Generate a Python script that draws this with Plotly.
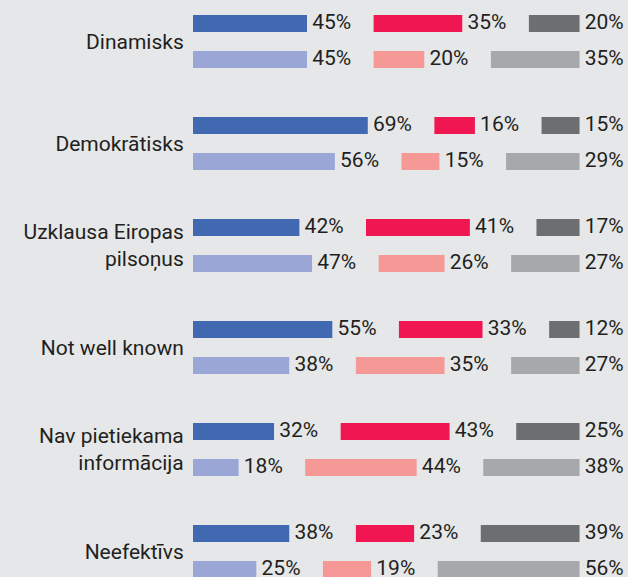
import plotly.graph_objects as go

categories = ["Dinamisks", "Demokrātisks", "Uzklausa Eiropas<br>pilsoņus",
              "Not well known", "Nav pietiekama<br>informācija", "Neefektīvs"]

# row 1 (dark colours) and row 2 (light colours) per category, in %
row1_blue = [45, 69, 42, 55, 32, 38]
row1_red = [35, 16, 41, 33, 43, 23]
row1_grey = [20, 15, 17, 12, 25, 39]
row2_blue = [45, 56, 47, 38, 18, 25]
row2_red = [20, 15, 26, 35, 44, 19]
row2_grey = [35, 29, 27, 27, 38, 56]

GAP = 26.3          # empty space (in % units) left for each label
ROW_OFF = 0.1765    # vertical offset of the two rows from the category centre
BAR_W = 0.167

FONT = "Roboto, Liberation Sans, Arial, sans-serif"
TXT = "#231f20"

rows = [
    (row1_blue, row1_red, row1_grey, ["#4169b2", "#f01652", "#6d6e70"], -ROW_OFF),
    (row2_blue, row2_red, row2_grey, ["#99a6d6", "#f69896", "#a7a8ab"], ROW_OFF),
]

fig = go.Figure()
n = len(categories)
for blue, red, grey, colors, off in rows:
    segs = [blue, red, grey]
    ypos = [i + off for i in range(n)]
    for j, vals in enumerate(segs):
        bases = []
        for i in range(n):
            bases.append(sum(segs[k][i] for k in range(j)) + j * GAP)
        fig.add_trace(go.Bar(
            orientation="h", x=vals, y=ypos, base=bases, width=BAR_W,
            marker=dict(color=colors[j], line=dict(width=0)),
            hoverinfo="skip", showlegend=False))
        fig.add_trace(go.Scatter(
            x=[b + v for b, v in zip(bases, vals)], y=ypos, mode="text",
            text=[f" {v}%" for v in vals], textposition="middle right",
            textfont=dict(family=FONT, size=21, color=TXT),
            cliponaxis=False, hoverinfo="skip", showlegend=False))

W, H = 628, 577
ML = 193
px_per_unit = 2.533
px_per_cat = 102
y_top = -41.5 / px_per_cat
y_bot = y_top + H / px_per_cat

fig.update_layout(
    width=W, height=H,
    margin=dict(l=ML, r=0, t=0, b=0),
    paper_bgcolor="#e6e7e9", plot_bgcolor="#e6e7e9",
    barmode="overlay",
    xaxis=dict(range=[0, (W - ML) / px_per_unit], visible=False, fixedrange=True,
               automargin=False),
    yaxis=dict(range=[y_bot, y_top], tickvals=list(range(n)), ticktext=categories,
               showgrid=False, zeroline=False, showline=False, automargin=False,
               ticks="outside", ticklen=4, tickcolor="rgba(0,0,0,0)",
               tickfont=dict(family=FONT, size=21, color=TXT), fixedrange=True),
)

fig.write_html(
    "out.html",
    config={"displayModeBar": False},
    post_script="document.body.style.margin='0';document.body.style.overflow='hidden';"
                "document.body.style.background='#e6e7e9';",
)
